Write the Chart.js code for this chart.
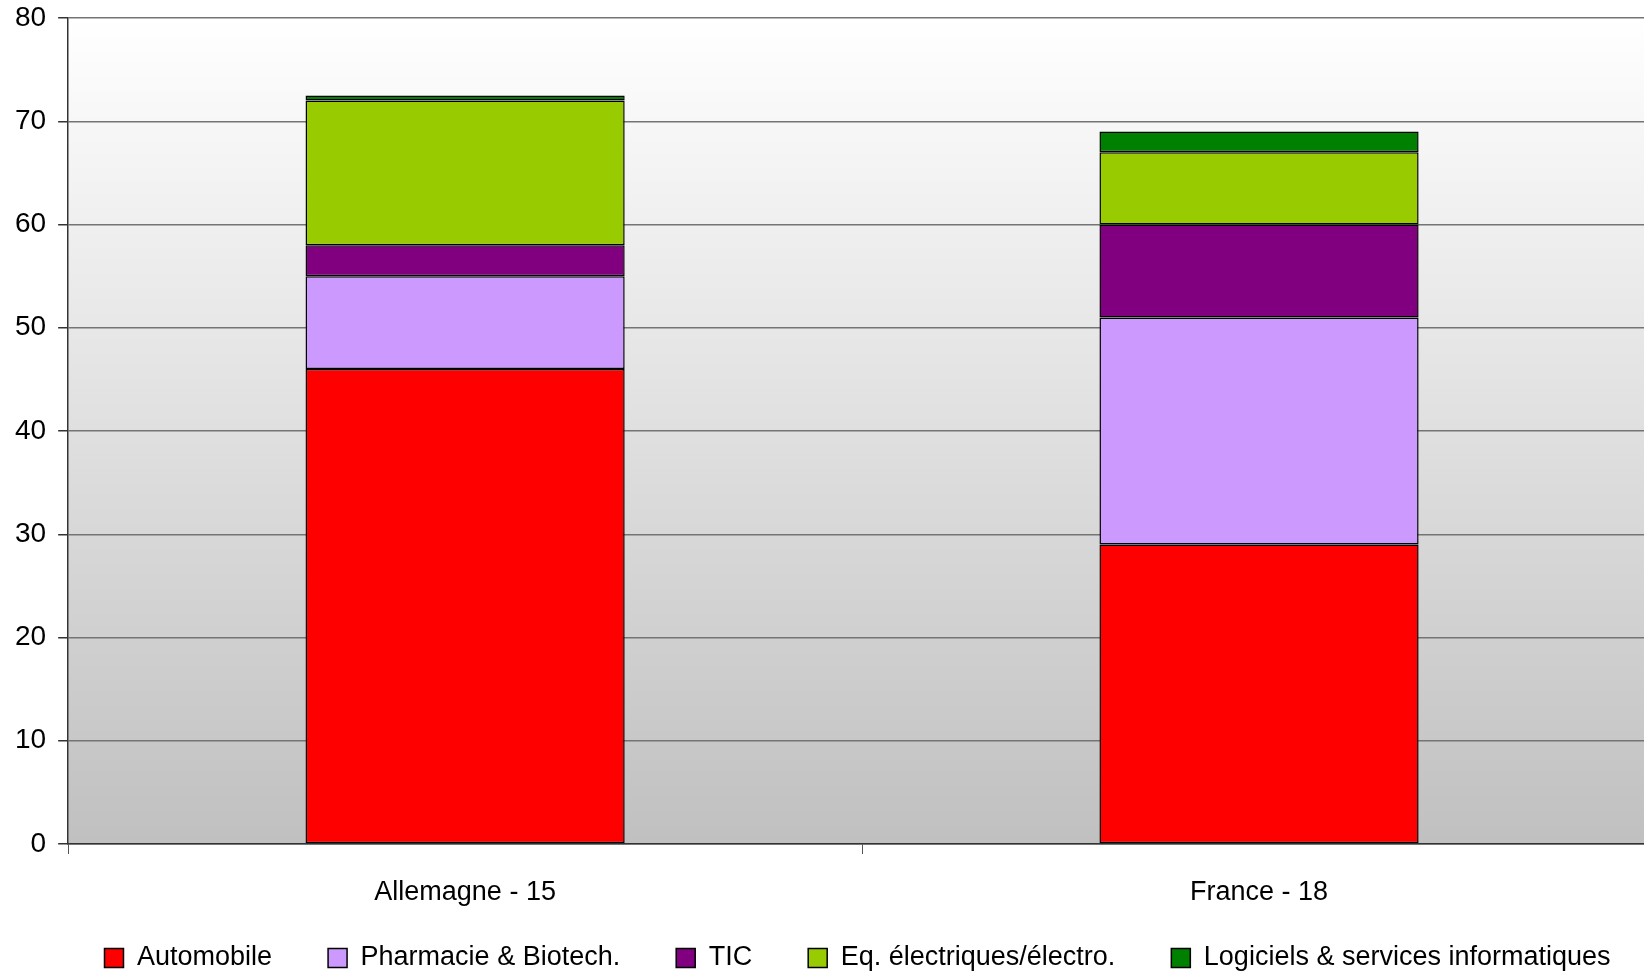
<!DOCTYPE html>
<html>
<head>
<meta charset="utf-8">
<script src="https://cdn.jsdelivr.net/npm/chart.js@4.4.1/dist/chart.umd.min.js"></script>
<style>
  html, body { margin: 0; padding: 0; background: #fff; overflow: hidden; }
  #wrap { width: 1644px; height: 975px; }
</style>
</head>
<body>
<div id="wrap"><canvas id="chart" width="1644" height="975"></canvas></div>
<script>
// ── Données ──────────────────────────────────────────────────
const categories = ['Allemagne - 15', 'France - 18'];
const automobile = [46, 29];
const pharmacie  = [9, 22];
const tic        = [3, 9];
const eqElec     = [14, 7];
const logiciels  = [0.5, 2];
const yTicks     = [0, 10, 20, 30, 40, 50, 60, 70, 80];

const SERIES = [
  { label: 'Automobile',                         data: automobile, color: '#FF0000' },
  { label: 'Pharmacie & Biotech.',               data: pharmacie,  color: '#CC99FF' },
  { label: 'TIC',                                data: tic,        color: '#800080' },
  { label: 'Eq. électriques/électro.',           data: eqElec,     color: '#99CC00' },
  { label: 'Logiciels & services informatiques', data: logiciels,  color: '#008000' },
];

const LEGEND_PAD = 56;
const LEGEND_H   = 67;    // hauteur réservée à la légende
const LEGEND_Y   = 958;   // centre de la ligne de légende
const X_OVERFLOW = 12;    // la zone de tracé déborde à droite de l'image

// ── Fond dégradé de la zone de tracé ─────────────────────────
const plotBackground = {
  id: 'plotBackground',
  beforeDraw(chart) {
    const { ctx, chartArea: a } = chart;
    const g = ctx.createLinearGradient(0, a.top, 0, a.bottom);
    g.addColorStop(0, '#FFFFFF');
    g.addColorStop(1, '#C0C0C0');
    ctx.save();
    ctx.fillStyle = g;
    ctx.fillRect(a.left, a.top, a.right - a.left, a.bottom - a.top);
    ctx.restore();
  },
};

// hauteur fixe + position de la légende, axe x prolongé à droite
const layoutTweaks = {
  id: 'layoutTweaks',
  afterInit(chart) {
    const lg = chart.legend;
    const fit = lg.fit;
    lg.fit = function () { fit.call(this); this.height = LEGEND_H; };
  },
  afterLayout(chart) {
    const lg = chart.legend;
    const dx = 34;
    lg.left += dx; lg.right += dx;
    lg.top = LEGEND_Y - LEGEND_PAD - 13.5;
    lg.bottom = chart.height + 20;
    lg.height = lg.bottom - lg.top;

    const x = chart.scales.x;
    x.right += X_OVERFLOW;
    x.width += X_OVERFLOW;
    x.configure();
  },
};

Chart.defaults.font.family = '"Liberation Sans", Arial, sans-serif';
Chart.defaults.font.size = 27;
Chart.defaults.color = '#000';

new Chart(document.getElementById('chart'), {
  type: 'bar',
  data: {
    labels: categories,
    datasets: SERIES.map(s => ({
      label: s.label,
      data: s.data,
      backgroundColor: s.color,
      borderColor: '#000',
      borderWidth: 1.5,
      borderSkipped: false,
      categoryPercentage: 0.402,
      barPercentage: 1,
    })),
  },
  options: {
    responsive: false,
    animation: false,
    devicePixelRatio: 1,
    layout: { padding: { top: 18, right: 0, left: 3, bottom: 0 } },
    plugins: {
      legend: {
        position: 'bottom',
        labels: {
          boxWidth: 19, boxHeight: 19, padding: LEGEND_PAD,
          color: '#000',
          font: { size: 27 },
          generateLabels(chart) {
            return chart.data.datasets.map((d, i) => ({
              text: d.label, fillStyle: d.backgroundColor, strokeStyle: '#000',
              lineWidth: 1.5, hidden: false, datasetIndex: i,
            }));
          },
        },
      },
      tooltip: { enabled: false },
    },
    scales: {
      x: {
        stacked: true,
        afterFit(scale) { scale.height = 64; },
        grid: { display: true, drawOnChartArea: false, drawTicks: true, tickLength: 10, color: '#555', offset: true },
        border: { display: true, color: '#333', width: 1.5 },
        ticks: { padding: 22, color: '#000', font: { size: 27 } },
      },
      y: {
        stacked: true,
        min: 0, max: 80,
        afterBuildTicks(axis) { axis.ticks = yTicks.map(v => ({ value: v })); },
        afterFit(scale) { scale.paddingTop = 0; scale.paddingBottom = 0; },
        grid: { color: '#747474', lineWidth: 1.5, tickLength: 10, tickColor: '#333' },
        border: { display: true, color: '#333', width: 1.5 },
        ticks: { padding: 12, color: '#000', font: { size: 28, lineHeight: 1 } },
      },
    },
  },
  plugins: [plotBackground, layoutTweaks],
});
</script>
</body>
</html>
